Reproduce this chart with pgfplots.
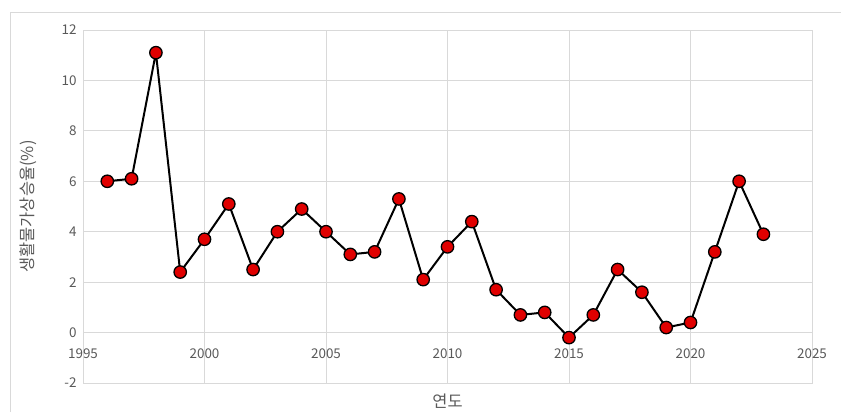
\documentclass[border=0pt]{standalone}
\usepackage{pgfplots}
\pgfplotsset{compat=1.18}
\usepackage{fontspec}
\setmainfont{Noto Sans CJK KR}
\definecolor{gridgray}{HTML}{D9D9D9}
\definecolor{txtgray}{HTML}{595959}
\definecolor{mred}{HTML}{E00000}
\begin{document}
\begin{tikzpicture}[x=1bp,y=1bp]
\useasboundingbox (0,0) rectangle (841,412);
\draw[gridgray, line width=0.8bp] (10,0) -- (10,400) -- (841,400);
\begin{axis}[
  at={(83bp,29bp)}, anchor=south west,
  scale only axis, width=729bp, height=353bp,
  xmin=1995, xmax=2025, ymin=-2, ymax=12,
  xtick={1995,2000,...,2025}, ytick={-2,0,...,12},
  grid=major, major grid style={gridgray, line width=0.8bp},
  axis line style={gridgray, line width=0.8bp},
  tick style={draw=none},
  extra y ticks={0}, extra y tick labels={},
  extra y tick style={grid style={color=gridgray!80!black!60, line width=1bp}},
  /pgf/number format/assume math mode=true,
  /pgf/number format/1000 sep={},
  ticklabel style={font=\fontsize{13.5}{15}\selectfont, text=txtgray},
  xticklabel style={yshift=38bp},
  yticklabel style={xshift=-3bp},
  xlabel={연도}, ylabel={생활물가상승율(\%)},
  label style={font=\fontsize{16.5}{18}\selectfont, text=txtgray},
  xlabel style={yshift=-7bp},
  ylabel style={yshift=18bp},
]
\addplot[black, line width=2bp, mark=*, mark size=6.2bp,
  mark options={fill=mred, draw=black, line width=1.3bp}]
coordinates {
(1996,6.0) (1997,6.1) (1998,11.1) (1999,2.4) (2000,3.7) (2001,5.1)
(2002,2.5) (2003,4.0) (2004,4.9) (2005,4.0) (2006,3.1) (2007,3.2)
(2008,5.3) (2009,2.1) (2010,3.4) (2011,4.4) (2012,1.7) (2013,0.7)
(2014,0.8) (2015,-0.2) (2016,0.7) (2017,2.5) (2018,1.6) (2019,0.2)
(2020,0.4) (2021,3.2) (2022,6.0) (2023,3.9)
};
\end{axis}
\end{tikzpicture}
\end{document}
